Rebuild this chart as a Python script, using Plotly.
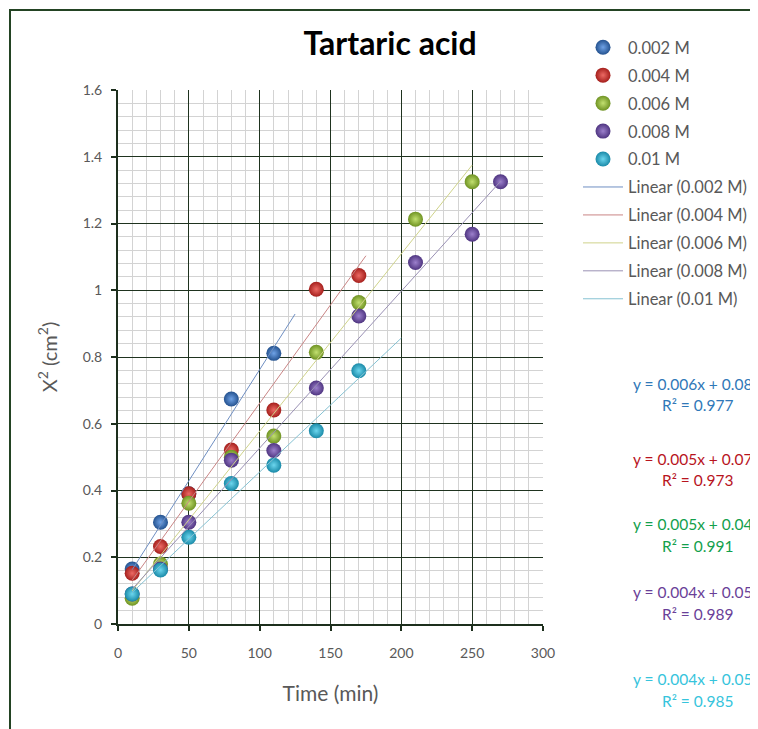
import numpy as np
import plotly.graph_objects as go

# ---- data ----
series_names = ["0.002 M", "0.004 M", "0.006 M", "0.008 M", "0.01 M"]

t_002 = [10, 30, 50, 80, 110]
x2_002 = [0.165, 0.305, 0.39, 0.674, 0.811]

t_004 = [10, 30, 50, 80, 110, 140, 170]
x2_004 = [0.152, 0.232, 0.39, 0.521, 0.641, 1.003, 1.044]

t_006 = [10, 30, 50, 80, 110, 140, 170, 210, 250]
x2_006 = [0.077, 0.18, 0.362, 0.50, 0.563, 0.814, 0.963, 1.213, 1.325]

t_008 = [10, 30, 50, 80, 110, 140, 170, 210, 250, 270]
x2_008 = [0.09, 0.165, 0.305, 0.491, 0.52, 0.707, 0.923, 1.083, 1.168, 1.325]

t_010 = [10, 30, 50, 80, 110, 140, 170]
x2_010 = [0.09, 0.162, 0.26, 0.421, 0.476, 0.579, 0.759]

# trendline forecast end (min)
trend_end = [125, 175, 250, 270, 200]

eq_texts = ["y = 0.006x + 0.084", "y = 0.005x + 0.070", "y = 0.005x + 0.043",
            "y = 0.004x + 0.055", "y = 0.004x + 0.054"]
r2_texts = ["R² = 0.977", "R² = 0.973", "R² = 0.991", "R² = 0.989", "R² = 0.985"]

x_ticks = [0, 50, 100, 150, 200, 250, 300]
y_ticks = [0, 0.2, 0.4, 0.6, 0.8, 1.0, 1.2, 1.4, 1.6]

# ---- styles ----
ball_edge = ["#24528f", "#a51f1c", "#6f9323", "#4f3581", "#1a8aa8"]
ball_center = ["#6fa2e6", "#ec6a64", "#c2e070", "#9c80cc", "#6cd6ee"]
line_cols = ["#6f8fc2", "#c98585", "#cfd38a", "#9990b4", "#86c2d3"]
eq_cols = ["#2f78b8", "#b8141e", "#12a04c", "#6a3f98", "#36c4dc"]
eq_y_px = [384, 459, 524, 592, 679]
r2_y_px = [405, 480, 546, 614, 701]

PAGE = 8  # browser body margin
W, H = 758, 729
L, T = 118 - PAGE, 90 - PAGE
PW, PH = 425, 534
R, B = W - L - PW, H - T - PH

def px_x(p):
    return (p - PAGE - L) / PW

def px_y(p):
    return (T + PH - (p - PAGE)) / PH

all_t = [t_002, t_004, t_006, t_008, t_010]
all_y = [x2_002, x2_004, x2_006, x2_008, x2_010]

fig = go.Figure()

for i, name in enumerate(series_names):
    fig.add_trace(go.Scatter(
        x=all_t[i], y=all_y[i], mode="markers", name=name,
        legendgroup="m%d" % i,
        marker=dict(size=15, color=ball_edge[i],
                    gradient=dict(type="radial", color=ball_center[i]),
                    line=dict(width=0)),
        hoverinfo="x+y",
    ))

for i, name in enumerate(series_names):
    tt = np.array(all_t[i], dtype=float)
    yy = np.array(all_y[i], dtype=float)
    slope, icpt = np.polyfit(tt, yy, 1)
    xs = np.array([tt.min(), trend_end[i]])
    fig.add_trace(go.Scatter(
        x=xs, y=slope * xs + icpt, mode="lines", name="Linear (%s)" % name,
        legendgroup="l%d" % i,
        line=dict(color=line_cols[i], width=1),
        hoverinfo="skip",
    ))

annotations = []
for i in range(5):
    annotations.append(dict(text=eq_texts[i], xref="paper", yref="paper",
                            x=px_x(697), y=px_y(eq_y_px[i]), xanchor="center",
                            yanchor="middle", showarrow=False,
                            font=dict(family="Lato", size=15.5, color=eq_cols[i])))
    annotations.append(dict(text=r2_texts[i], xref="paper", yref="paper",
                            x=px_x(697), y=px_y(r2_y_px[i]), xanchor="center",
                            yanchor="middle", showarrow=False,
                            font=dict(family="Lato", size=15.5, color=eq_cols[i])))

axis_common = dict(
    showline=True, linecolor="#1d2f1d", linewidth=2, mirror=False,
    ticks="outside", ticklen=5, tickwidth=2, tickcolor="#1d2f1d",
    showgrid=True, gridcolor="#1f331f", gridwidth=1, zeroline=False,
    tickfont=dict(family="Lato", size=14, color="#595959"),
)

fig.update_layout(
    width=W, height=H,
    margin=dict(l=L, r=R, t=T, b=B, autoexpand=False),
    paper_bgcolor="white", plot_bgcolor="white",
    font=dict(family="Lato", color="#595959"),
    title=dict(text="<b>Tartaric acid</b>", x=px_x(390), xref="paper",
               xanchor="center", y=1 - (44 - PAGE) / H, yanchor="middle",
               font=dict(family="Lato", size=32, color="black")),
    xaxis=dict(range=[0, 300], tickvals=x_ticks, ticklabelstandoff=10,
               minor=dict(dtick=10, showgrid=True, gridcolor="#d3d3d3", gridwidth=1),
               title=dict(text="Time (min)", standoff=27,
                          font=dict(family="Lato", size=21, color="#595959")),
               **axis_common),
    yaxis=dict(range=[0, 1.6], tickvals=y_ticks, ticklabelstandoff=6,
               minor=dict(dtick=0.04, showgrid=True, gridcolor="#d3d3d3", gridwidth=1),
               title=dict(text="X<sup>2</sup> (cm<sup>2</sup>)", standoff=20,
                          font=dict(family="Lato", size=20, color="#595959")),
               **axis_common),
    legend=dict(x=px_x(578), y=px_y(30), xanchor="left", yanchor="top",
                font=dict(family="Lato", size=16.5, color="#595959"),
                tracegroupgap=3.5, bgcolor="rgba(0,0,0,0)", itemwidth=40),
    annotations=annotations,
    shapes=[dict(type="rect", xref="paper", yref="paper",
                 x0=px_x(10), x1=px_x(800), y0=px_y(760), y1=px_y(10),
                 line=dict(color="#234323", width=2), fillcolor="rgba(0,0,0,0)",
                 layer="below")],
)

fig.write_html("out.html")
